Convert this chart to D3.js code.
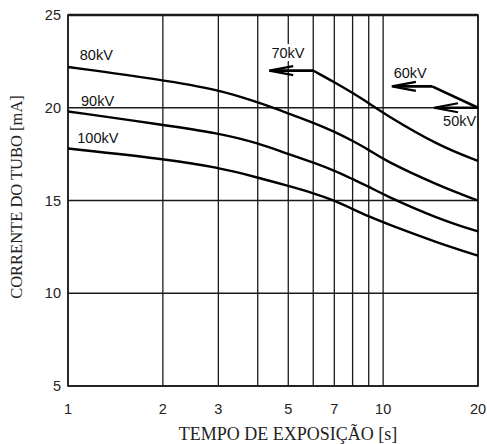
<!DOCTYPE html>
<html>
<head>
<meta charset="utf-8">
<script src="https://cdn.jsdelivr.net/npm/d3@7"></script>
<style>
  body { margin: 0; background: #fff; }
  svg { display: block; }
</style>
</head>
<body>
<div class="canvas"></div>
<script>
// data
const timeTicks = [1, 2, 3, 5, 7, 10, 20];
const gridTimes = [1, 2, 3, 4, 5, 6, 7, 8, 9, 10, 20];
const currentTicks = [5, 10, 15, 20, 25];

const kv80Time = [1, 2, 3, 4, 5, 6, 7, 8, 9, 10, 15, 20];
const kv80Current = [22.2, 21.5, 20.97, 20.3, 19.7, 19.2, 18.72, 18.22, 17.74, 17.2, 15.8, 15.0];
const kv90Time = [1, 2, 3, 4, 5, 6, 7, 8, 9, 10, 15, 20];
const kv90Current = [19.8, 19.08, 18.63, 18.1, 17.5, 17.05, 16.62, 16.15, 15.75, 15.32, 14.0, 13.33];
const kv100Time = [1, 2, 3, 4, 5, 6, 7, 8, 9, 10, 15, 20];
const kv100Current = [17.8, 17.25, 16.78, 16.24, 15.79, 15.4, 15.0, 14.54, 14.14, 13.82, 12.7, 12.03];
const kv70Time = [6, 7, 8, 9, 10, 15, 20];
const kv70Current = [22.0, 21.38, 20.8, 20.25, 19.71, 17.95, 17.14];
const kv60Time = [14.3, 20];
const kv60Current = [21.15, 20.0];

// arrows: [tip time, tail time, current]
const arrows = [
  {tip: 4.35, tail: 6, mA: 22.0},
  {tip: 10.66, tail: 14.3, mA: 21.15},
  {tip: 14.5, tail: 20, mA: 20.0}
];

const curveLabels = [
  {text: '80kV', t: 1.09, mA: 22.55},
  {text: '90kV', t: 1.1, mA: 20.1},
  {text: '100kV', t: 1.07, mA: 18.1},
  {text: '70kV', t: 4.42, mA: 22.7},
  {text: '60kV', t: 10.8, mA: 21.6},
  {text: '50kV', t: 15.5, mA: 19.0}
];

const W = 487, H = 444;
const box = {left: 68, right: 478, top: 15, bottom: 386};

const svg = d3.select('.canvas')
  .append('svg')
  .attr('width', W)
  .attr('height', H);

const x = d3.scaleLog().domain([1, 20]).range([box.left, box.right]);
const y = d3.scaleLinear().domain([5, 25]).range([box.bottom, box.top]);

const ink = '#1a1a1a';

// grid
const grid = svg.append('g');
grid.selectAll('.vgrid')
  .data(gridTimes)
  .enter().append('line')
  .attr('class', 'vgrid')
  .attr('x1', d => x(d)).attr('x2', d => x(d))
  .attr('y1', box.top).attr('y2', box.bottom)
  .attr('stroke', ink).attr('stroke-width', 1.3);

grid.selectAll('.hgrid')
  .data(currentTicks)
  .enter().append('line')
  .attr('class', 'hgrid')
  .attr('x1', box.left).attr('x2', box.right)
  .attr('y1', d => y(d)).attr('y2', d => y(d))
  .attr('stroke', ink).attr('stroke-width', 1.3);

// frame
svg.append('rect')
  .attr('x', box.left).attr('y', box.top)
  .attr('width', box.right - box.left).attr('height', box.bottom - box.top)
  .attr('fill', 'none').attr('stroke', ink).attr('stroke-width', 1.6);
svg.append('line')
  .attr('x1', box.left).attr('x2', box.right)
  .attr('y1', box.top).attr('y2', box.top)
  .attr('stroke', ink).attr('stroke-width', 2.4);

// ticks text
const sans = 'Liberation Sans, Arial, sans-serif';
svg.append('g').selectAll('text')
  .data(currentTicks)
  .enter().append('text')
  .attr('x', box.left - 7)
  .attr('y', d => y(d) + 5)
  .attr('text-anchor', 'end')
  .attr('font-family', sans).attr('font-size', 14.5)
  .attr('fill', '#222')
  .text(d => d);

svg.append('g').selectAll('text')
  .data(timeTicks)
  .enter().append('text')
  .attr('x', d => x(d))
  .attr('y', 414)
  .attr('text-anchor', 'middle')
  .attr('font-family', sans).attr('font-size', 14.5)
  .attr('fill', '#222')
  .text(d => d);

// axis titles
const serif = 'Liberation Serif, Times New Roman, serif';
svg.append('text')
  .attr('x', 288).attr('y', 440)
  .attr('text-anchor', 'middle')
  .attr('font-family', serif).attr('font-size', 18)
  .attr('fill', '#222')
  .text('TEMPO DE EXPOSIÇÃO [s]');

svg.append('text')
  .attr('transform', 'translate(22,197) rotate(-90)')
  .attr('text-anchor', 'middle')
  .attr('font-family', serif).attr('font-size', 16.5)
  .attr('fill', '#222')
  .text('CORRENTE DO TUBO [mA]');

// curves
const line = d3.line()
  .x(d => x(d[0]))
  .y(d => y(d[1]))
  .curve(d3.curveBasis);

const series = [
  d3.zip(kv80Time, kv80Current),
  d3.zip(kv90Time, kv90Current),
  d3.zip(kv100Time, kv100Current),
  d3.zip(kv70Time, kv70Current)
];

svg.append('g').selectAll('path')
  .data(series)
  .enter().append('path')
  .attr('d', line)
  .attr('fill', 'none')
  .attr('stroke', '#000')
  .attr('stroke-width', 2.4);

svg.append('path')
  .attr('d', d3.line().x(d => x(d[0])).y(d => y(d[1]))(d3.zip(kv60Time, kv60Current)))
  .attr('fill', 'none')
  .attr('stroke', '#000')
  .attr('stroke-width', 2.6);

// label for 70kV sits on a white patch that breaks the grid line
const labels = svg.append('g');
labels.selectAll('text')
  .data(curveLabels)
  .enter().append('text')
  .attr('x', d => x(d.t))
  .attr('y', d => y(d.mA))
  .attr('font-family', sans).attr('font-size', 14.5)
  .attr('fill', '#111')
  .attr('stroke', d => d.text === '70kV' ? '#fff' : 'none')
  .attr('stroke-width', 6)
  .attr('paint-order', 'stroke')
  .text(d => d.text);

// arrows
const arrowG = svg.append('g');
arrows.forEach(a => {
  const tx = x(a.tip), px = x(a.tail), py = y(a.mA);
  arrowG.append('line')
    .attr('x1', tx + 2).attr('x2', px)
    .attr('y1', py).attr('y2', py)
    .attr('stroke', '#000').attr('stroke-width', 2.6);
  arrowG.append('path')
    .attr('d', `M${tx + 24},${py - 4.5} L${tx},${py} L${tx + 24},${py + 4.5}`)
    .attr('fill', 'none')
    .attr('stroke', '#000').attr('stroke-width', 2.2)
    .attr('stroke-linejoin', 'miter');
});
</script>
</body>
</html>
